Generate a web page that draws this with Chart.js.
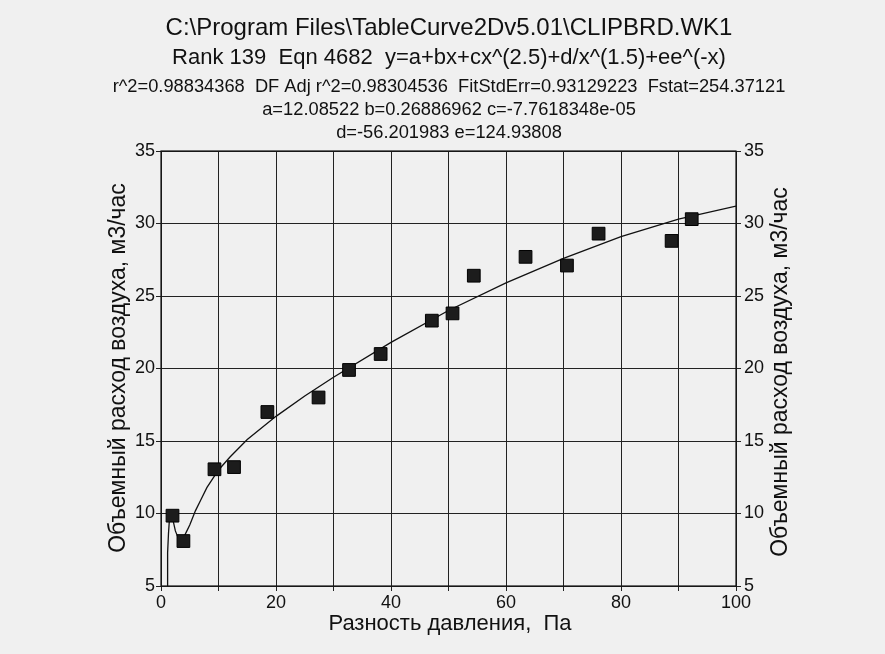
<!DOCTYPE html>
<html>
<head>
<meta charset="utf-8">
<script src="https://cdn.jsdelivr.net/npm/chart.js@4/dist/chart.umd.min.js"></script>
<style>
html,body{margin:0;padding:0;background:#f0f0f0;}
#wrap{width:885px;height:654px;}
</style>
</head>
<body>
<div id="wrap"><canvas id="c" width="885" height="654"></canvas></div>
<script>
// Measured points
const pressureX = [2.0, 3.9, 9.3, 12.7, 18.5, 27.4, 32.7, 38.2, 47.1, 50.7, 54.4, 63.4, 70.6, 76.1, 88.8, 92.3];
const flowY     = [9.85, 8.1, 13.05, 13.2, 17.0, 18.0, 19.9, 21.0, 23.3, 23.8, 26.4, 27.7, 27.1, 29.3, 28.8, 30.3];
// Fitted curve
const curveX = [1.08, 1.1, 1.2, 1.3, 1.5, 1.75, 2, 2.5, 3, 3.5, 4, 4.5, 5, 6, 7, 8, 10, 12, 15, 20, 25, 30, 40, 50, 60, 70, 80, 90, 100];
const curveY = [4.7, 5.2, 7.3, 8.6, 9.8, 10.0, 9.7, 8.8, 8.3, 8.2, 8.4, 8.8, 9.2, 10.2, 11.0, 11.8, 13.0, 13.9, 15.1, 16.7, 18.1, 19.4, 21.8, 24.0, 25.9, 27.6, 29.1, 30.3, 31.2];
// Tick labels
const xTicks = [0, 20, 40, 60, 80, 100];
const yTicks = [5, 10, 15, 20, 25, 30, 35];
// Header text
const headerLines = [
  "C:\\Program Files\\TableCurve2Dv5.01\\CLIPBRD.WK1",
  "Rank 139  Eqn 4682  y=a+bx+cx^(2.5)+d/x^(1.5)+ee^(-x)",
  "r^2=0.98834368  DF Adj r^2=0.98304536  FitStdErr=0.93129223  Fstat=254.37121",
  "a=12.08522 b=0.26886962 c=-7.7618348e-05",
  "d=-56.201983 e=124.93808"
];
const yTitle = "Объемный расход воздуха, м3/час";
const xTitle = "Разность давления,  Па";

const FONT = "'Liberation Sans', Arial, sans-serif";
const headerFonts = [24, 22, 18.3, 18.3, 18.3];
const headerY = [28, 58, 87, 110, 133];

const points = pressureX.map((x, i) => ({x, y: flowY[i]}));
const curve = curveX.map((x, i) => ({x, y: curveY[i]}));

const textPlugin = {
  id: 'texts',
  beforeDraw(chart) {
    const ctx = chart.ctx;
    ctx.save();
    ctx.fillStyle = '#f0f0f0';
    ctx.fillRect(0, 0, chart.width, chart.height);
    ctx.fillStyle = '#111';
    ctx.textAlign = 'center';
    ctx.textBaseline = 'middle';
    headerLines.forEach((t, i) => {
      ctx.font = headerFonts[i] + 'px ' + FONT;
      ctx.fillText(t, 449, headerY[i]);
    });
    // x axis title
    ctx.font = '22px ' + FONT;
    ctx.textBaseline = 'alphabetic';
    ctx.fillText(xTitle, 450, 630);
    // y axis titles (both read bottom-to-top)
    ctx.font = '23px ' + FONT;
    [[125, 368], [787, 372]].forEach(([x, y]) => {
      ctx.save();
      ctx.translate(x, y);
      ctx.rotate(-Math.PI / 2);
      ctx.fillText(yTitle, 0, 0);
      ctx.restore();
    });
    ctx.restore();
  },
  afterDatasetsDraw(chart) {
    const {left, top, right, bottom} = chart.chartArea;
    const ctx = chart.ctx;
    ctx.save();
    ctx.strokeStyle = '#111';
    ctx.lineWidth = 1.2;
    ctx.strokeRect(left, top, right - left, bottom - top);
    ctx.restore();
  }
};

const tickFont = {family: FONT, size: 18};

new Chart(document.getElementById('c'), {
  type: 'scatter',
  data: {
    datasets: [
      {
        label: 'fit',
        data: curve,
        showLine: true,
        borderColor: '#111',
        borderWidth: 1.3,
        pointRadius: 0,
        fill: false,
        order: 2
      },
      {
        label: 'data',
        data: points,
        pointStyle: 'rect',
        pointRadius: 9,
        backgroundColor: '#1c1c1c',
        borderColor: '#000',
        borderWidth: 1,
        showLine: false,
        order: 1
      }
    ]
  },
  options: {
    responsive: false,
    animation: false,
    devicePixelRatio: 1,
    layout: {padding: {left: 109, right: 100, top: 151, bottom: 21}},
    plugins: {legend: {display: false}, tooltip: {enabled: false}},
    scales: {
      x: {
        type: 'linear', min: 0, max: 100,
        afterFit(s) { s.height = 47; },
        afterBuildTicks(s) { s.ticks = [0,10,20,30,40,50,60,70,80,90,100].map(v => ({value: v})); },
        ticks: {
          color: '#111', font: tickFont, padding: 1, maxRotation: 0, autoSkip: false,
          callback: v => xTicks.includes(v) ? String(v) : ''
        },
        grid: {color: '#222', lineWidth: 1, tickLength: 5, drawTicks: true},
        border: {display: false},
        title: {display: false}
      },
      y: {
        type: 'linear', position: 'left', min: 5, max: 35,
        afterFit(s) { s.width = 52; },
        afterBuildTicks(s) { s.ticks = yTicks.map(v => ({value: v})); },
        ticks: {color: '#111', font: tickFont, padding: 1},
        grid: {color: '#222', lineWidth: 1, tickLength: 5},
        border: {display: false},
        title: {display: false}
      },
      y2: {
        type: 'linear', position: 'right', min: 5, max: 35,
        afterFit(s) { s.width = 49; },
        afterBuildTicks(s) { s.ticks = yTicks.map(v => ({value: v})); },
        ticks: {color: '#111', font: tickFont, padding: 3},
        grid: {color: '#222', lineWidth: 1, tickLength: 5, drawOnChartArea: false},
        border: {display: false},
        title: {display: false}
      }
    }
  },
  plugins: [textPlugin]
});
</script>
</body>
</html>
